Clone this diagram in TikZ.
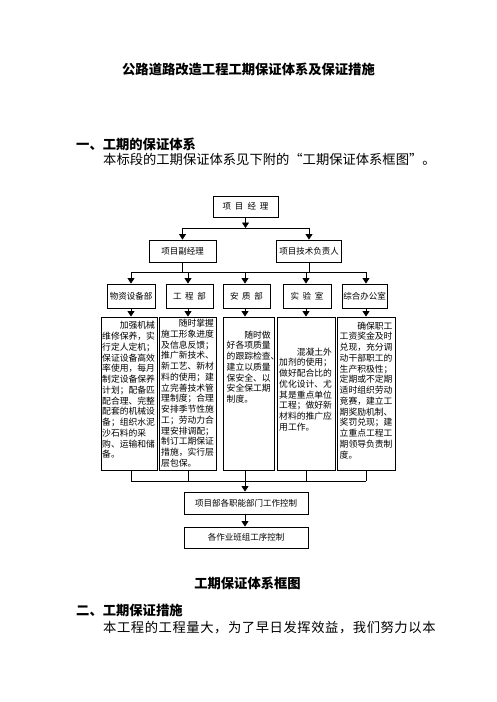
\documentclass[tikz,border=0pt]{standalone}
\usepackage{fontspec}
\newfontfamily\cjk{Noto Sans CJK SC}
\usetikzlibrary{arrows.meta}
\tikzset{
  box/.style={draw, line width=0.9pt, inner sep=0pt, font=\cjk\fontsize{8.5}{10}\selectfont},
  arr/.style={-{Triangle[width=7pt,length=5.5pt]}, line width=0.9pt},
  ln/.style={line width=0.9pt},
  txt/.style={anchor=north west, inner sep=0pt, align=left, font=\cjk\fontsize{8.8}{10.75}\selectfont},
  head/.style={inner sep=0pt, font=\cjk\bfseries\fontsize{13.3}{16}\selectfont},
  body/.style={inner sep=0pt, anchor=west, font=\cjk\fontsize{13.3}{16}\selectfont},
}
\begin{document}
\begin{tikzpicture}[x=1pt,y=-1pt]
\fill[white] (0,0) rectangle (496,702);
\useasboundingbox (0,0) rectangle (496,702);

% headings
\node[head] (title) at (248.5,69) {公路道路改造工程工期保证体系及保证措施};
\node[head, anchor=west] (sec1) at (76,144.5) {一、工期的保证体系};
\node[body] (par1) at (103,159.5) {本标段的工期保证体系见下附的“工期保证体系框图”。};
\node[head] (cap) at (247.5,583) {工期保证体系框图};
\node[head, anchor=west] (sec2) at (76,610) {二、工期保证措施};
\node[body] (par2) at (103,628) {\addfontfeature{LetterSpace=4.3}本工程的工程量大，为了早日发挥效益，我们努力以本};

% top boxes
\node[box, minimum width=65pt, minimum height=21pt] (pm) at (245.5,206.5) {项\hspace{4pt}目\hspace{4pt}经\hspace{4pt}理};
\node[box, minimum width=67pt, minimum height=22pt] (vm) at (182.5,251) {项目副经理};
\node[box, minimum width=65pt, minimum height=22pt] (te) at (309,251) {项目技术负责人};

% departments
\node[box, minimum width=48pt, minimum height=24pt] (d1) at (131,296) {物资设备部};
\node[box, minimum width=47pt, minimum height=24pt] (d2) at (189.5,296) {工\hspace{3.7pt}程\hspace{3.7pt}部};
\node[box, minimum width=47pt, minimum height=24pt] (d3) at (246.5,296) {安\hspace{3.7pt}质\hspace{3.7pt}部};
\node[box, minimum width=48pt, minimum height=24pt] (d4) at (307,296) {实\hspace{3.7pt}验\hspace{3.7pt}室};
\node[box, minimum width=45pt, minimum height=24pt] (d5) at (364.5,296) {综合办公室};

% content boxes
\node[box, minimum width=56pt, minimum height=153pt] (b1) at (129,393.5) {};
\node[box, minimum width=57pt, minimum height=153pt] (b2) at (187.5,393.5) {};
\node[box, minimum width=51pt, minimum height=153pt] (b3) at (248.5,393.5) {};
\node[box, minimum width=58pt, minimum height=153pt] (b4) at (306,393.5) {};
\node[box, minimum width=58pt, minimum height=153pt] (b5) at (366,393.5) {};

\node[txt] (t1) at (102,321.3) {\hspace*{2em}加强机械\\维修保养，实\\行定人定机；\\保证设备高效\\率使用，每月\\制定设备保养\\计划；配备匹\\配合理、完整\\配套的机械设\\备；组织水泥\\沙石料的采\\购、运输和储\\备。};
\node[txt] (t2) at (161,318.9) {\hspace*{2em}随时掌握\\施工形象进度\\及信息反馈；\\推广新技术、\\新工艺、新材\\料的使用；建\\立完善技术管\\理制度；合理\\安排季节性施\\工；劳动力合\\理安排调配；\\制订工期保证\\措施，实行层\\层包保。};
\node[txt] (t3) at (226.5,330.6) {\hspace*{2em}随时做\\好各项质量\\的跟踪检查、\\建立以质量\\保安全、以\\安全保工期\\制度。};
\node[txt] (t4) at (279,347.6) {\hspace*{2em}混凝土外\\加剂的使用；\\做好配合比的\\优化设计、尤\\其是重点单位\\工程；做好新\\材料的推广应\\用工作。};
\node[txt] (t5) at (339.5,321.6) {\hspace*{2em}确保职工\\工资奖金及时\\兑现，充分调\\动干部职工的\\生产积极性；\\定期或不定期\\适时组织劳动\\竞赛，建立工\\期奖励机制、\\奖罚兑现；建\\立重点工程工\\期领导负责制\\度。};

% bottom boxes
\node[box, minimum width=124pt, minimum height=22pt] (f1) at (246,503) {项目部各职能部门工作控制};
\node[box, minimum width=124pt, minimum height=21pt] (f2) at (246,537.5) {各作业班组工序控制};

% junction coordinates
\coordinate (h1) at (0,228);
\coordinate (h2) at (0,272);
\coordinate (h3) at (0,481);
\coordinate (c1) at (131,0);
\coordinate (c2) at (188,0);
\coordinate (c3) at (245,0);
\coordinate (c4) at (306,0);
\coordinate (c5) at (366,0);

% connectors
\draw[arr] (pm.south) -- (pm.south |- h1);
\draw[ln] (vm.north |- h1) -- (te.north |- h1);
\draw[arr] (vm.north |- h1) -- (vm.north);
\draw[arr] (te.north |- h1) -- (te.north);
\draw[ln] (vm.south) -- (vm.south |- h2);
\draw[ln] (te.south) -- (te.south |- h2);
\draw[ln] (c1 |- h2) -- (c5 |- h2);
\foreach \i in {1,...,5}{
  \draw[arr] (c\i |- h2) -- (c\i |- d\i.north);
  \draw[arr] (c\i |- d\i.south) -- (c\i |- b\i.north);
  \draw[ln] (c\i |- b\i.south) -- (c\i |- h3);
}
\draw[ln] (c1 |- h3) -- (c5 |- h3);
\draw[arr] (c3 |- h3) -- (c3 |- f1.north);
\draw[arr] (c3 |- f1.south) -- (c3 |- f2.north);
\end{tikzpicture}
\end{document}
